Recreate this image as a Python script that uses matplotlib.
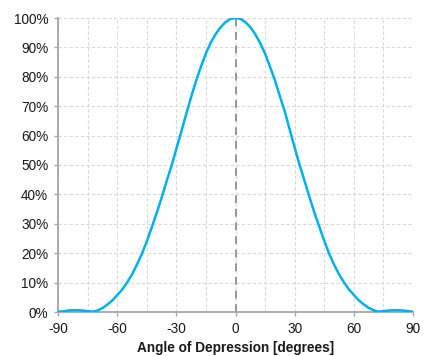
import matplotlib
matplotlib.use("Agg")
import matplotlib.pyplot as plt
from matplotlib.ticker import FuncFormatter, MultipleLocator

angles = [-90, -87.5, -85, -82.5, -80, -77.5, -75, -72.5, -70, -67.5, -65, -62.5,
          -60, -57.5, -55, -52.5, -50, -47.5, -45, -42.5, -40, -37.5, -35, -32.5,
          -30, -27.5, -25, -22.5, -20, -17.5, -15, -12.5, -10, -7.5, -5, -2.5,
          0, 2.5, 5, 7.5, 10, 12.5, 15, 17.5, 20, 22.5, 25, 27.5, 30, 32.5, 35,
          37.5, 40, 42.5, 45, 47.5, 50, 52.5, 55, 57.5, 60, 62.5, 65, 67.5, 70,
          72.5, 75, 77.5, 80, 82.5, 85, 87.5, 90]
intensity = [0.1, 0.2, 0.5, 0.6, 0.6, 0.5, 0.3, 0.1, 0.5, 1.3, 2.5, 3.9,
             5.7, 7.6, 10.0, 12.7, 16.1, 19.7, 24.0, 28.7, 33.6, 38.8, 44.3, 49.6,
             55.5, 61.3, 67.3, 73.1, 78.6, 83.5, 88.0, 91.7, 94.6, 96.9, 98.6, 99.7,
             100.0, 99.7, 98.6, 96.9, 94.5, 91.5, 87.9, 83.4, 78.8, 73.4, 68.2, 62.0,
             55.9, 50.0, 44.6, 39.1, 33.8, 29.0, 24.2, 19.8, 16.1, 12.8, 10.1, 7.7,
             5.8, 4.0, 2.6, 1.4, 0.6, 0.1, 0.3, 0.5, 0.6, 0.6, 0.5, 0.3, 0.1]

x_ticks = [-90, -60, -30, 0, 30, 60, 90]
y_ticks = [0, 10, 20, 30, 40, 50, 60, 70, 80, 90, 100]

plt.rcParams['font.family'] = ['Liberation Sans', 'DejaVu Sans']
plt.rcParams['axes.unicode_minus'] = False

fig = plt.figure(figsize=(4.27, 3.56), dpi=100)
ax = fig.add_axes([58/427, 44/356, 355/427, 294/356])

ax.plot(angles, intensity, color='#00b0f0', lw=1.8, zorder=3, solid_capstyle='round')
ax.plot([0, 0], [0, 100], color='#969696', lw=1.4, ls=(0, (4, 3)), zorder=2)

ax.set_xlim(-90, 90)
ax.set_ylim(0, 100)
ax.set_xticks(x_ticks)
ax.xaxis.set_minor_locator(MultipleLocator(15))
ax.set_yticks(y_ticks)
ax.yaxis.set_major_formatter(FuncFormatter(lambda v, p: f"{int(v)}%"))

ax.grid(True, which='both', color='#d9d9d9', ls=(0, (3, 2)), lw=0.8, zorder=0)
ax.set_axisbelow(True)

for s in ['top', 'right']:
    ax.spines[s].set_visible(False)
for s in ['left', 'bottom']:
    ax.spines[s].set_color('#a6a6a6')
    ax.spines[s].set_linewidth(1.3)

ax.tick_params(axis='both', which='major', direction='out', length=3, width=1,
               color='#a6a6a6', labelsize=9.8, labelcolor='#1a1a1a', pad=4)
ax.tick_params(axis='x', which='minor', length=0)

ax.set_xlabel('Angle of Depression [degrees]', fontsize=9.8, fontweight='bold',
              color='#1a1a1a', labelpad=4)

fig.savefig('out.png', dpi=100)
